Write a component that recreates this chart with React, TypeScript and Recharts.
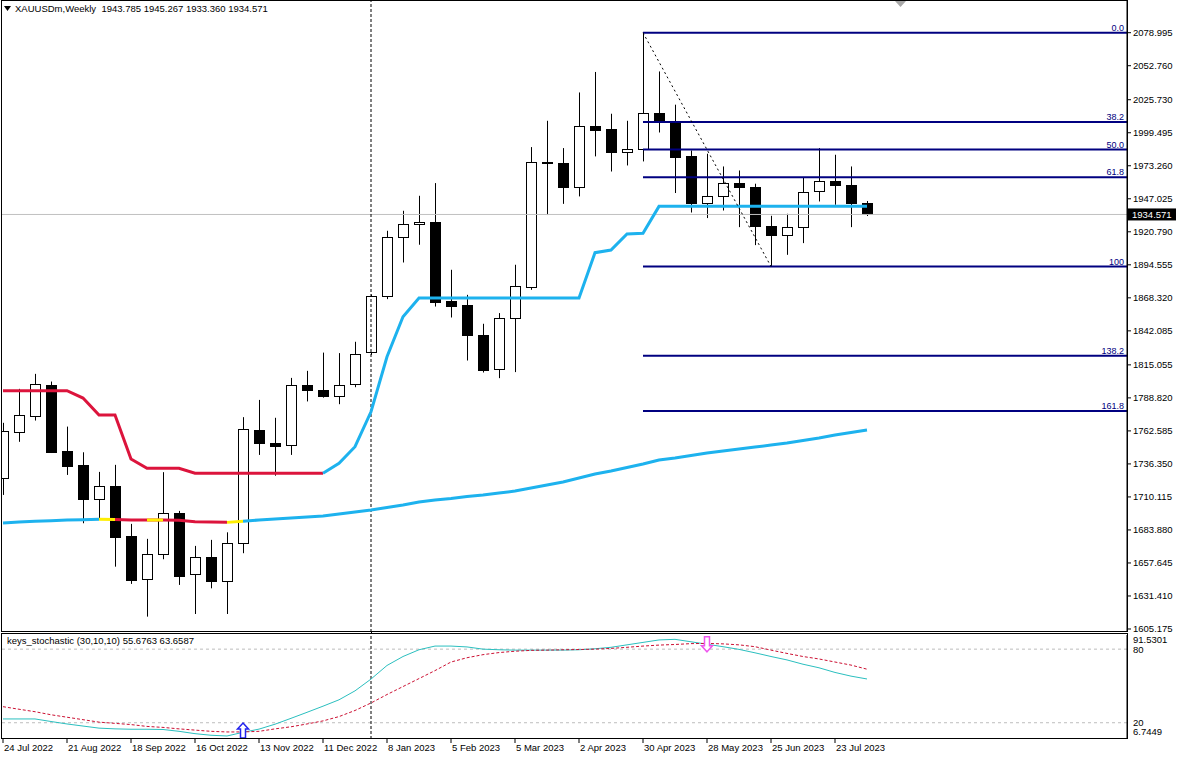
import { ComposedChart, Bar, Line, XAxis, YAxis, ReferenceLine, Scatter } from 'recharts';

// weekly candles, 24 Jul 2022 .. 6 Aug 2023
const weeks = [
  '24 Jul 2022', '31 Jul 2022', '7 Aug 2022', '14 Aug 2022', '21 Aug 2022', '28 Aug 2022', '4 Sep 2022',
  '11 Sep 2022', '18 Sep 2022', '25 Sep 2022', '2 Oct 2022', '9 Oct 2022', '16 Oct 2022', '23 Oct 2022',
  '30 Oct 2022', '6 Nov 2022', '13 Nov 2022', '20 Nov 2022', '27 Nov 2022', '4 Dec 2022', '11 Dec 2022',
  '18 Dec 2022', '25 Dec 2022', '1 Jan 2023', '8 Jan 2023', '15 Jan 2023', '22 Jan 2023', '29 Jan 2023',
  '5 Feb 2023', '12 Feb 2023', '19 Feb 2023', '26 Feb 2023', '5 Mar 2023', '12 Mar 2023', '19 Mar 2023',
  '26 Mar 2023', '2 Apr 2023', '9 Apr 2023', '16 Apr 2023', '23 Apr 2023', '30 Apr 2023', '7 May 2023',
  '14 May 2023', '21 May 2023', '28 May 2023', '4 Jun 2023', '11 Jun 2023', '18 Jun 2023', '25 Jun 2023',
  '2 Jul 2023', '9 Jul 2023', '16 Jul 2023', '23 Jul 2023', '30 Jul 2023', '6 Aug 2023',
];

const opens = [
  1725.2, 1762.0, 1774.8, 1799.2, 1746.7, 1735.5, 1708.3, 1718.9, 1679.1, 1644.7,
  1664.6, 1697.2, 1648.6, 1662.2, 1643.6, 1673.3, 1763.4, 1753.1, 1751.5, 1799.2,
  1795.2, 1790.6, 1799.7, 1825.6, 1869.4, 1916.6, 1926.9, 1928.5, 1866.0, 1862.6,
  1838.9, 1811.6, 1852.2, 1877.1, 1975.9, 1975.4, 1956.0, 2004.5, 2002.7, 1984.2,
  1986.5, 2015.2, 2008.5, 1980.7, 1943.6, 1948.9, 1959.5, 1956.3, 1925.0, 1918.2,
  1924.5, 1953.4, 1961.1, 1958.2, 1943.785,
];
const highs = [
  1769.0, 1796.0, 1807.9, 1801.8, 1766.0, 1745.6, 1730.0, 1735.6, 1688.7, 1676.8,
  1729.8, 1699.0, 1671.2, 1676.0, 1682.0, 1773.5, 1787.2, 1773.0, 1804.7, 1810.3,
  1824.8, 1824.4, 1833.4, 1871.0, 1921.6, 1937.5, 1949.4, 1959.5, 1890.6, 1870.7,
  1847.7, 1856.2, 1894.6, 1988.1, 2009.0, 1987.3, 2031.5, 2047.8, 2014.6, 2009.0,
  2078.995, 2048.2, 2021.8, 1985.4, 1982.8, 1972.7, 1969.5, 1959.0, 1933.5, 1935.1,
  1964.3, 1987.3, 1982.0, 1972.7, 1945.267,
];
const lows = [
  1711.7, 1753.9, 1770.8, 1745.0, 1727.6, 1689.2, 1691.8, 1654.7, 1641.0, 1615.0,
  1660.6, 1640.2, 1617.1, 1637.5, 1617.1, 1665.4, 1743.5, 1727.0, 1743.5, 1786.0,
  1789.0, 1783.8, 1797.3, 1823.0, 1867.3, 1896.4, 1910.5, 1861.4, 1852.7, 1818.5,
  1809.0, 1804.5, 1809.3, 1874.7, 1934.1, 1943.0, 1948.9, 1980.7, 1968.7, 1973.5,
  1976.7, 1999.7, 1951.6, 1936.1, 1931.7, 1937.7, 1924.5, 1910.2, 1893.2, 1902.5,
  1911.8, 1944.9, 1942.3, 1924.5, 1933.36,
];
const closes = [
  1762.6, 1775.3, 1799.7, 1746.1, 1735.0, 1708.3, 1718.9, 1678.6, 1644.1, 1664.8,
  1697.2, 1647.5, 1662.2, 1643.6, 1673.3, 1763.9, 1753.1, 1750.6, 1799.2, 1794.7,
  1790.6, 1799.2, 1823.8, 1869.9, 1916.6, 1926.9, 1928.5, 1865.4, 1862.2, 1838.4,
  1811.1, 1852.2, 1877.6, 1976.2, 1975.1, 1956.0, 2004.8, 2001.9, 1983.8, 1986.5,
  2015.2, 2008.5, 1980.2, 1943.6, 1948.9, 1959.5, 1956.3, 1925.0, 1918.2, 1924.5,
  1952.8, 1960.8, 1957.9, 1943.6, 1934.571,
];

// step trend line: red (above price) until the flip, cyan afterwards
const trendLine = [
  1794.5, 1794.5, 1794.5, 1794.5, 1794.5, 1788.7, 1775.2, 1775.2, 1740.3, 1732.9,
  1732.9, 1732.9, 1729.0, 1729.0, 1729.0, 1729.0, 1729.0, 1729.0, 1729.0, 1729.0,
  1729.0, 1736.8, 1750.0, 1777.8, 1821.5, 1853.3, 1868.2, 1868.2, 1868.2, 1868.2,
  1868.2, 1868.2, 1868.2, 1868.2, 1868.2, 1868.2, 1868.2, 1904.2, 1906.3, 1919.0,
  1919.6, 1941.0, 1941.0, 1941.0, 1941.0, 1941.0, 1941.0, 1941.0, 1941.0, 1941.0,
  1941.0, 1941.0, 1941.0, 1941.0, 1941.0,
];
const trendFlip = 20;

// slow moving average, colour of each segment i -> i+1 (c = cyan, r = red, y = yellow)
const maLine = [
  1689.4, 1690.2, 1690.8, 1691.2, 1691.8, 1692.0, 1692.3, 1692.2, 1691.8, 1691.8,
  1691.8, 1691.5, 1690.4, 1690.2, 1689.9, 1690.8, 1691.8, 1692.6, 1693.4, 1694.2,
  1695.0, 1696.5, 1698.1, 1699.7, 1701.7, 1703.7, 1706.1, 1707.7, 1708.9, 1710.4,
  1711.6, 1713.2, 1714.8, 1717.2, 1719.6, 1722.0, 1725.1, 1728.3, 1730.7, 1733.5,
  1736.3, 1739.4, 1741.0, 1743.0, 1745.0, 1746.6, 1748.2, 1749.8, 1751.3, 1752.9,
  1754.9, 1756.9, 1759.3, 1761.3, 1763.3,
];
const maSegments = [
  'c', 'c', 'c', 'c', 'c', 'c', 'y', 'r', 'r', 'y', 'r', 'r', 'r', 'r', 'y', 'c', 'c', 'c',
  'c', 'c', 'c', 'c', 'c', 'c', 'c', 'c', 'c', 'c', 'c', 'c', 'c', 'c', 'c', 'c', 'c', 'c',
  'c', 'c', 'c', 'c', 'c', 'c', 'c', 'c', 'c', 'c', 'c', 'c', 'c', 'c', 'c', 'c', 'c', 'c',
];

// keys_stochastic (30,10,10)
const stochMain = [
  23.1, 23.1, 23.1, 21.0, 19.0, 17.3, 15.6, 15.0, 14.7, 14.7,
  14.5, 13.0, 11.1, 9.8, 9.2, 12.2, 14.8, 18.8, 23.6, 28.5,
  33.5, 38.7, 46.0, 55.6, 66.7, 74.0, 79.5, 82.5, 82.5, 81.8,
  80.0, 79.5, 79.2, 79.2, 79.2, 79.2, 79.5, 80.3, 81.5, 83.5,
  85.5, 87.5, 88.0, 86.0, 84.0, 82.0, 79.8, 77.0, 74.0, 71.2,
  67.7, 64.8, 61.0, 58.0, 55.6763,
];
const stochSignal = [
  33.1, 31.0, 29.0, 26.5, 24.5, 22.5, 20.5, 19.5, 18.5, 17.0,
  16.2, 15.0, 14.0, 13.0, 12.5, 12.5, 13.0, 15.0, 16.7, 19.0,
  21.5, 25.0, 30.0, 36.1, 43.0, 49.5, 56.0, 62.5, 69.5, 73.0,
  75.5, 77.2, 78.3, 79.0, 79.2, 79.5, 79.7, 80.0, 80.6, 81.5,
  82.5, 83.3, 83.8, 84.5, 84.7, 84.3, 83.5, 82.0, 79.2, 76.5,
  74.0, 72.0, 69.5, 67.0, 63.6587,
];
const buySignals = [{ i: 15, v: 19.8 }];
const sellSignals = [{ i: 44, v: 77.8 }];

const priceTicks = [
  2078.995, 2052.76, 2025.73, 1999.495, 1973.26, 1947.025, 1920.79, 1894.555, 1868.32, 1842.085,
  1815.055, 1788.82, 1762.585, 1736.35, 1710.115, 1683.88, 1657.645, 1631.41, 1605.175,
];
const stochTicks = [6.7449, 20, 80, 91.5301];
const dateTicks = [0, 4, 8, 12, 16, 20, 24, 28, 32, 36, 40, 44, 48, 52];

const fibLevels = [
  { label: '0.0', price: 2078.995 },
  { label: '38.2', price: 2008.0 },
  { label: '50.0', price: 1986.1 },
  { label: '61.8', price: 1964.2 },
  { label: '100', price: 1893.2 },
  { label: '138.2', price: 1822.2 },
  { label: '161.8', price: 1778.4 },
];
const fibFrom = { i: 40, price: 2078.995 };
const fibTo = { i: 48, price: 1893.2 };
const lastPrice = 1934.571;
const markerWeek = 23;

const X_DOMAIN: [number, number] = [-0.0625, 70.25];
const FONT = '"Liberation Sans", Arial, sans-serif';
const CYAN = '#1DB2EE';
const RED = '#DC143C';
const YELLOW = '#FFEE00';
const NAVY = '#000080';

const maPoint = (c: string, i: number) =>
  maSegments[i - 1] === c || maSegments[i] === c ? maLine[i] : null;

const mainData = weeks.map((w, i) => ({
  i,
  week: w,
  range: [lows[i], highs[i]],
  open: opens[i],
  high: highs[i],
  low: lows[i],
  close: closes[i],
  trendRed: i <= trendFlip ? trendLine[i] : null,
  trendCyan: i >= trendFlip ? trendLine[i] : null,
  maCyan: maPoint('c', i),
  maRed: maPoint('r', i),
  maYellow: maPoint('y', i),
}));

const stochData = weeks.map((w, i) => ({ i, week: w, main: stochMain[i], signal: stochSignal[i] }));

const Candle = (props: any) => {
  const { x, y, width, height, payload } = props;
  const { open, close, high, low } = payload;
  const top = Math.min(y, y + height);
  const h = Math.abs(height);
  const span = high - low || 1;
  const py = (v: number) => top + ((high - v) / span) * h;
  const cx = Math.round(x + width / 2);
  const bodyTop = Math.round(py(Math.max(open, close)));
  const bodyBot = Math.round(py(Math.min(open, close)));
  const up = close >= open;
  return (
    <g>
      <line x1={cx + 0.5} x2={cx + 0.5} y1={top} y2={top + h} stroke="#000" strokeWidth={1} />
      <rect
        x={cx - 4.5}
        y={bodyTop + 0.5}
        width={10}
        height={Math.max(1, bodyBot - bodyTop)}
        fill={up ? '#fff' : '#000'}
        stroke="#000"
        strokeWidth={1}
      />
    </g>
  );
};

const PriceTag = (props: any) => {
  const vb = props.viewBox;
  const x = vb.x + vb.width + 1;
  return (
    <g>
      <rect x={x} y={vb.y - 6} width={48} height={12} fill="#000" />
      <text x={x + 4} y={vb.y + 3.5} fill="#fff" fontSize={9.5}>
        {lastPrice.toFixed(3)}
      </text>
    </g>
  );
};

const fibLabel = (text: string) => (props: any) => {
  const vb = props.viewBox;
  return (
    <text x={vb.x + vb.width - 3} y={vb.y - 2} textAnchor="end" fill={NAVY} fontSize={9}>
      {text}
    </text>
  );
};

const DateTick = ({ x, y, payload }: any) => (
  <text x={x + 1} y={y + 8} fontSize={9.5} fill="#000" textAnchor="start">
    {weeks[payload.value]}
  </text>
);

const StochTick = ({ x, y, payload }: any) => {
  const v = payload.value;
  const dy = v > 90 ? 8 : v < 10 ? -4 : 3.5;
  return (
    <text x={x} y={y + dy} fontSize={9.5} fill="#000" textAnchor="start">
      {String(v)}
    </text>
  );
};

const UpArrow = ({ cx, cy }: any) => (
  <polygon
    points={`${cx},${cy} ${cx + 5.5},${cy + 6} ${cx + 2.5},${cy + 6} ${cx + 2.5},${cy + 15} ${cx - 2.5},${cy + 15} ${cx - 2.5},${cy + 6} ${cx - 5.5},${cy + 6}`}
    fill="#fff"
    stroke="#2222EE"
    strokeWidth={1.5}
  />
);

const DownArrow = ({ cx, cy }: any) => (
  <polygon
    points={`${cx},${cy} ${cx + 5.5},${cy - 6} ${cx + 2.5},${cy - 6} ${cx + 2.5},${cy - 15} ${cx - 2.5},${cy - 15} ${cx - 2.5},${cy - 6} ${cx - 5.5},${cy - 6}`}
    fill="#fff"
    stroke="#EE55EE"
    strokeWidth={1.5}
  />
);

const App = () => {
  return (
    <div style={{ position: 'absolute', left: 0, top: 0, width: 1177, height: 760, background: '#fff', fontFamily: FONT }}>
      <div style={{ position: 'absolute', left: 0, top: 0 }}>
        <ComposedChart width={1177} height={640} data={mainData} margin={{ top: 1, right: 0, bottom: 8, left: 2 }}>
          <XAxis dataKey="i" type="number" domain={X_DOMAIN} allowDataOverflow hide />
          <YAxis
            orientation="right"
            type="number"
            domain={[1602.79, 2104.18]}
            allowDataOverflow
            ticks={priceTicks}
            interval={0}
            width={50}
            tickSize={4}
            tickMargin={2}
            tickFormatter={(v: number) => v.toFixed(3)}
            tick={{ fontSize: 9.5, fill: '#000' }}
            stroke="#000"
          />
          <ReferenceLine y={lastPrice} stroke="#C0C0C0" label={PriceTag} />
          <ReferenceLine x={markerWeek} stroke="#000" strokeDasharray="3 2" />
          <Line dataKey="maCyan" stroke={CYAN} strokeWidth={3} dot={false} isAnimationActive={false} />
          <Line dataKey="maRed" stroke={RED} strokeWidth={3} dot={false} isAnimationActive={false} />
          <Line dataKey="maYellow" stroke={YELLOW} strokeWidth={3} dot={false} isAnimationActive={false} />
          <Line dataKey="trendRed" stroke={RED} strokeWidth={3} dot={false} isAnimationActive={false} />
          <Line dataKey="trendCyan" stroke={CYAN} strokeWidth={3} dot={false} isAnimationActive={false} />
          <Bar dataKey="range" barSize={10} isAnimationActive={false} shape={(p: any) => <Candle {...p} />} />
          {fibLevels.map((f) => (
            <ReferenceLine
              key={f.label}
              segment={[{ x: fibFrom.i, y: f.price }, { x: X_DOMAIN[1], y: f.price }]}
              stroke={NAVY}
              strokeWidth={2}
              label={fibLabel(f.label)}
            />
          ))}
          <ReferenceLine
            segment={[{ x: fibFrom.i, y: fibFrom.price }, { x: fibTo.i, y: fibTo.price }]}
            stroke="#000"
            strokeDasharray="2 3"
          />
        </ComposedChart>
      </div>

      <div style={{ position: 'absolute', left: 0, top: 633 }}>
        <ComposedChart width={1177} height={127} data={stochData} margin={{ top: 2, right: 0, bottom: 0, left: 2 }}>
          <XAxis
            dataKey="i"
            type="number"
            domain={X_DOMAIN}
            allowDataOverflow
            ticks={dateTicks}
            interval={0}
            height={21}
            tickSize={4}
            tickMargin={0}
            axisLine={false}
            tickLine={{ stroke: '#000' }}
            tick={<DateTick />}
          />
          <YAxis
            orientation="right"
            type="number"
            domain={[6.7449, 91.5301]}
            allowDataOverflow
            ticks={stochTicks}
            interval={0}
            width={50}
            tickSize={4}
            tickMargin={2}
            tickLine={false}
            tick={<StochTick />}
            stroke="#000"
          />
          <ReferenceLine y={80} stroke="#BDBDBD" strokeDasharray="3 3" />
          <ReferenceLine y={20} stroke="#BDBDBD" strokeDasharray="3 3" />
          <ReferenceLine x={markerWeek} stroke="#000" strokeDasharray="3 2" />
          <Line dataKey="main" stroke="#2BBFBF" strokeWidth={1} dot={false} isAnimationActive={false} />
          <Line dataKey="signal" stroke="#CC1133" strokeWidth={1} strokeDasharray="3 2" dot={false} isAnimationActive={false} />
          <Scatter data={buySignals} dataKey="v" isAnimationActive={false} shape={(p: any) => <UpArrow {...p} />} />
          <Scatter data={sellSignals} dataKey="v" isAnimationActive={false} shape={(p: any) => <DownArrow {...p} />} />
        </ComposedChart>
      </div>

      {/* panel frames */}
      <div style={{ position: 'absolute', left: 1, top: 0, width: 1125, height: 630, border: '1px solid #000', pointerEvents: 'none' }} />
      <div style={{ position: 'absolute', left: 1, top: 633, width: 1125, height: 104, border: '1px solid #000', pointerEvents: 'none' }} />
      <div style={{ position: 'absolute', left: 371, top: 631, width: 0, height: 3, borderLeft: '1px dashed #000', pointerEvents: 'none' }} />

      {/* header */}
      <svg style={{ position: 'absolute', left: 4, top: 6 }} width={8} height={6}>
        <polygon points="0,0 7,0 3.5,5" fill="#000" />
      </svg>
      <div style={{ position: 'absolute', left: 15, top: 3, fontSize: 9.5, lineHeight: '12px', color: '#000', whiteSpace: 'pre' }}>
        {'XAUUSDm,Weekly  1943.785 1945.267 1933.360 1934.571'}
      </div>
      <svg style={{ position: 'absolute', left: 895, top: 1 }} width={12} height={8}>
        <polygon points="0,0 11,0 5.5,6" fill="#A8A8A8" />
      </svg>
      <div style={{ position: 'absolute', left: 7, top: 635, fontSize: 9.5, lineHeight: '12px', color: '#000', whiteSpace: 'pre' }}>
        {'keys_stochastic (30,10,10) 55.6763 63.6587'}
      </div>
    </div>
  );
};

export default App;
